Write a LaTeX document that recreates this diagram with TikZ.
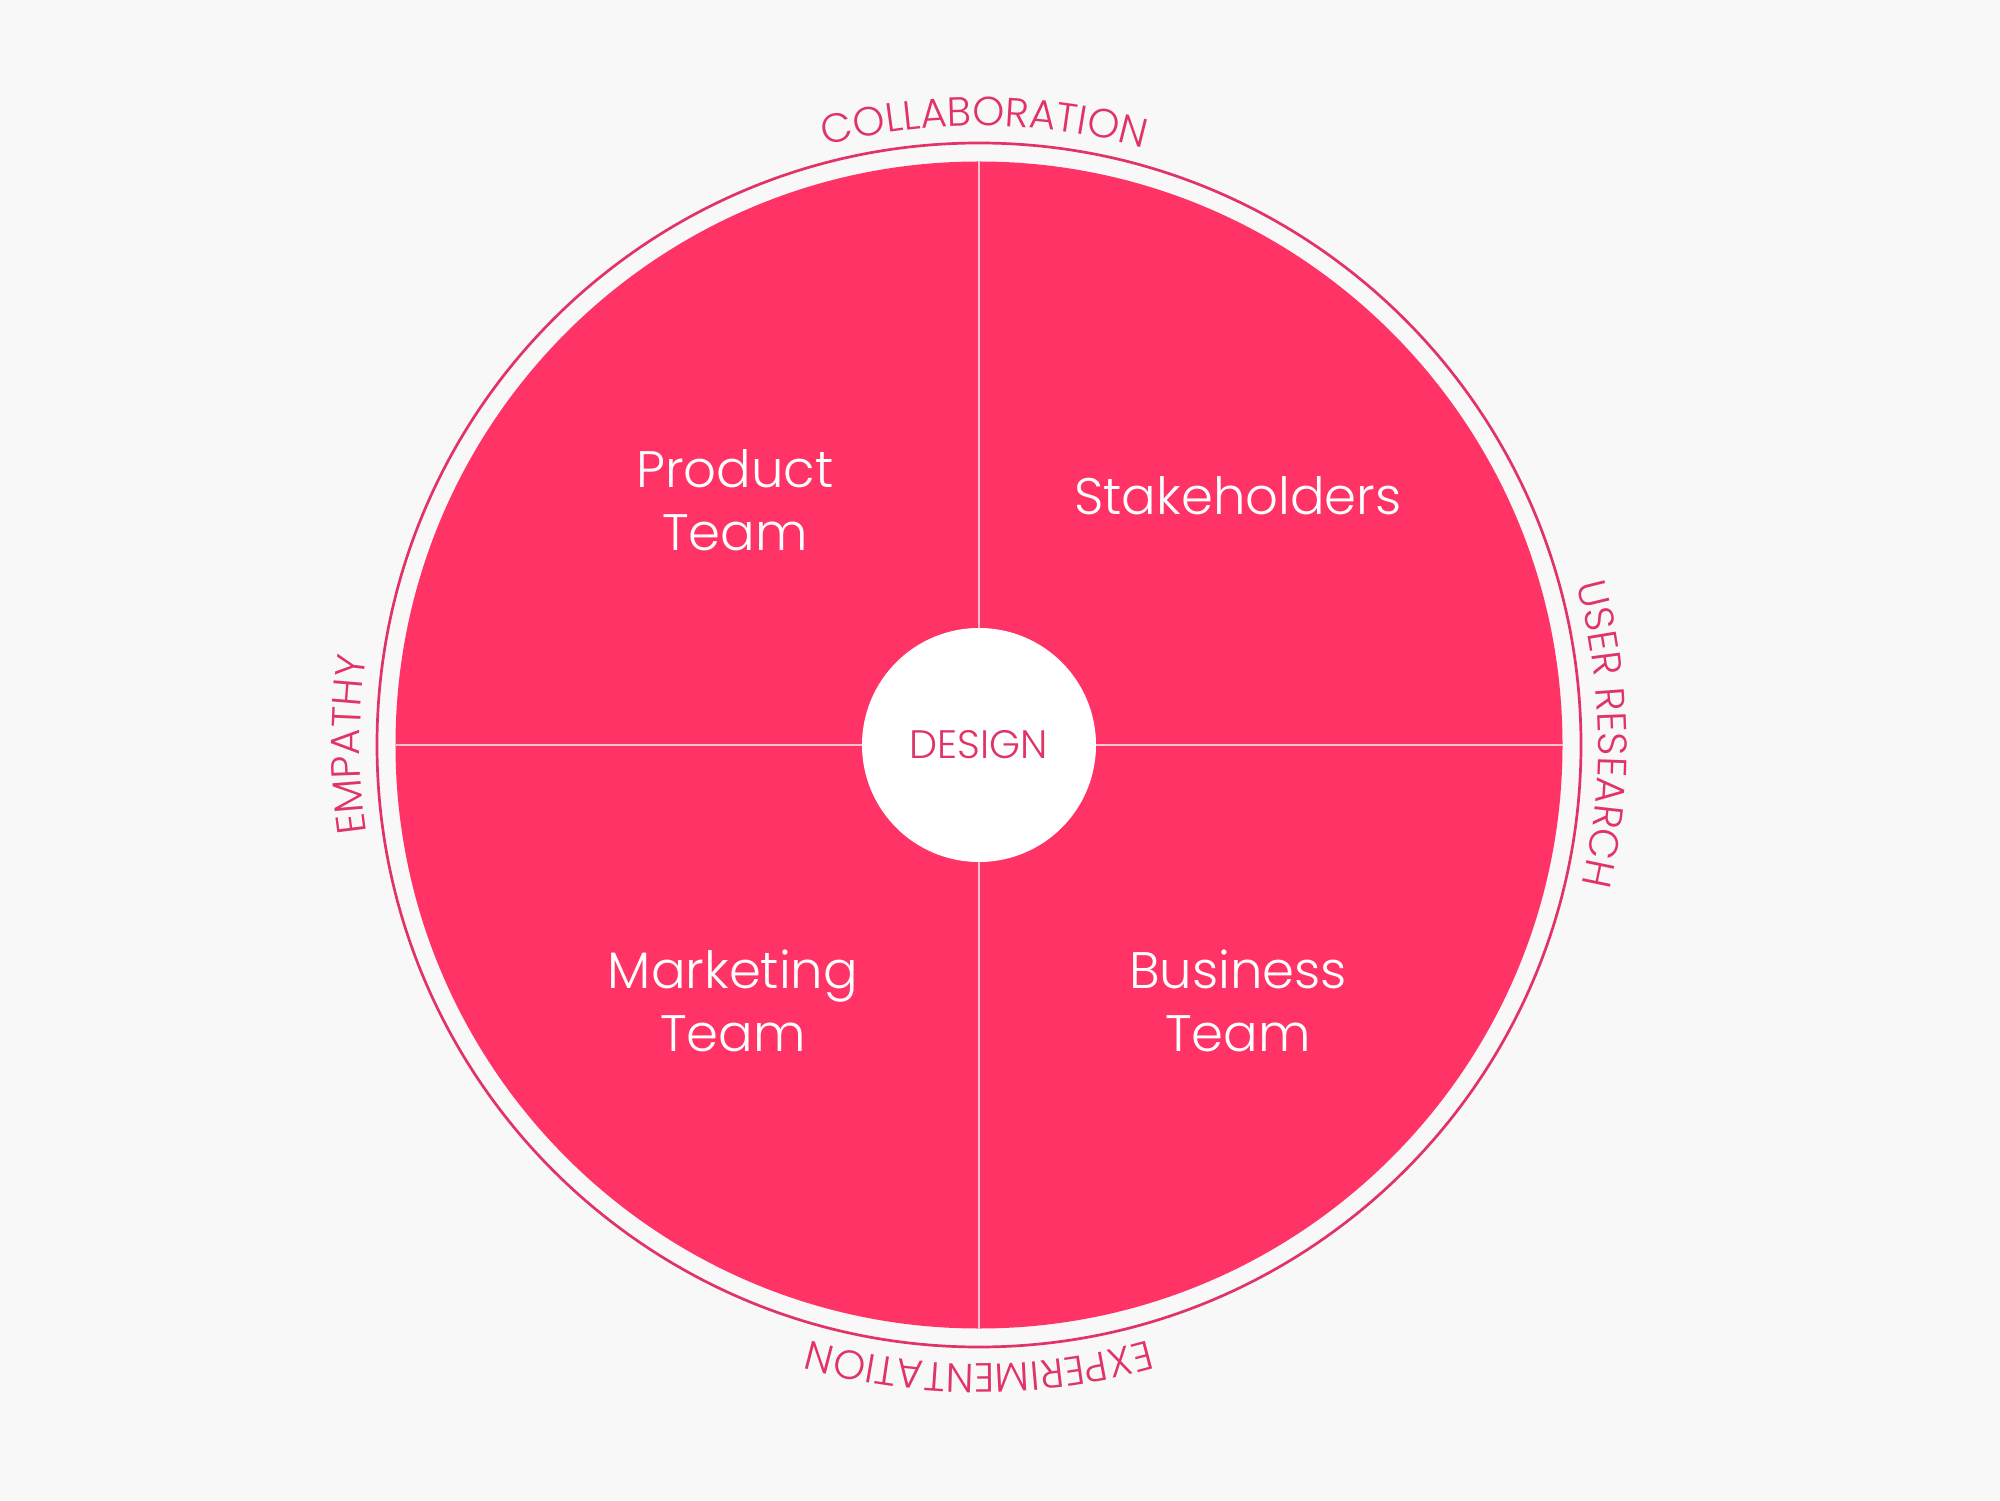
\documentclass[tikz,border=0pt]{standalone}
\usepackage{fontspec}
\setmainfont{Poppins Light}
\usetikzlibrary{decorations.text}
\definecolor{bg}{HTML}{F8F8F8}
\definecolor{fillc}{HTML}{FF3366}
\definecolor{ringc}{HTML}{E23367}
\definecolor{txtc}{HTML}{E03366}
\definecolor{divc}{HTML}{FFC2D1}
\tikzset{
  biglabel/.style={text=white, align=center, font=\fontsize{14.6}{18}\selectfont},
  ringtext/.style={decorate, decoration={text along path, text align=center,
     text={|\color{txtc}\fontsize{11.6}{13}\selectfont|#1}}},
  divider/.style={draw=divc, line width=0.015cm}
}
\begin{document}
\begin{tikzpicture}
\useasboundingbox[fill=bg] (0,0) rectangle (20,15);
\coordinate (c) at (9.79,7.55);
\draw[ringc, line width=0.027cm] (c) circle[radius=6.02];
\fill[fillc] (c) circle[radius=5.835];
\coordinate (l) at ([shift={(-5.835,0)}]c);
\coordinate (r) at ([shift={(5.835,0)}]c);
\coordinate (t) at ([shift={(0,5.835)}]c);
\coordinate (b) at ([shift={(0,-5.835)}]c);
\draw[divider] (l) -- (r);
\draw[divider] (t) -- (b);
\fill[white] (c) circle[radius=1.17];
\node[text=txtc, font=\fontsize{11.3}{13}\selectfont] (design) at (c) {DESIGN};
\node[biglabel] (product) at (7.35,10.0) {Product\\Team};
\node[biglabel] (stake) at (12.38,10.04) {Stakeholders};
\node[biglabel] (marketing) at (7.33,4.99) {Marketing\\Team};
\node[biglabel] (business) at (12.38,4.99) {Business\\Team};
\path[ringtext=COLLABORATION] ([shift={(134.5:6.19)}]c) arc[start angle=134.5, end angle=44.5, radius=6.19];
\path[ringtext=USER RESEARCH] ([shift={(46:6.19)}]c) arc[start angle=46, end angle=-44, radius=6.19];
\path[ringtext=EXPERIMENTATION] ([shift={(-45:6.19)}]c) arc[start angle=-45, end angle=-135, radius=6.19];
\path[ringtext=EMPATHY] ([shift={(-135:6.19)}]c) arc[start angle=-135, end angle=-225, radius=6.19];
\end{tikzpicture}
\end{document}
